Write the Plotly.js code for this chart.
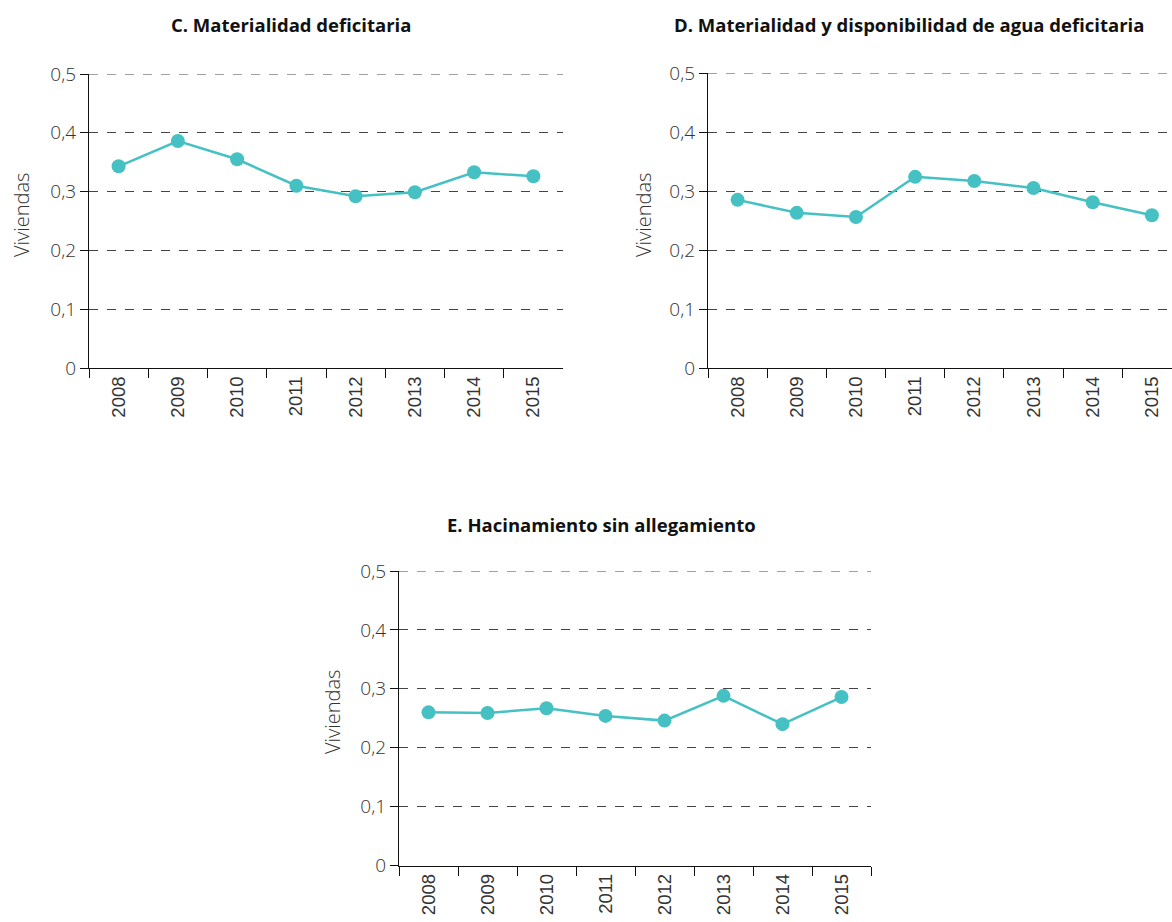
<!DOCTYPE html>
<html>
<head>
<meta charset="utf-8">
<script src="https://cdn.plot.ly/plotly-3.0.1.min.js"></script>
<style>html,body{margin:0;padding:0;background:#fff;}#chart{width:1172px;height:922px;}</style>
</head>
<body>
<div id="chart"></div>
<script>
const years = ["2008","2009","2010","2011","2012","2013","2014","2015"];
const valuesC = [0.343, 0.386, 0.355, 0.310, 0.292, 0.299, 0.333, 0.326];
const valuesD = [0.285, 0.263, 0.256, 0.324, 0.317, 0.305, 0.281, 0.259];
const valuesE = [0.260, 0.259, 0.267, 0.254, 0.246, 0.288, 0.240, 0.286];
const titles = ["C. Materialidad deficitaria", "D. Materialidad y disponibilidad de agua deficitaria", "E. Hacinamiento sin allegamiento"];
const yTickVals = [0, 0.1, 0.2, 0.3, 0.4, 0.5];
const yTickText = ["0", "0,1", "0,2", "0,3", "0,4", "0,5"];
const yLabel = "Viviendas";

const W = 1172, H = 922;
const teal = "#45c1c3";
const font = "'Open Sans', 'Noto Sans', sans-serif";
const xfont = "'Liberation Sans', Arial, sans-serif";

function px(x){ return x / W; }
function py(y){ return 1 - y / H; }

function trace(vals, xa, ya){
  return {
    type: "scatter", mode: "lines+markers",
    x: years, y: vals, xaxis: xa, yaxis: ya,
    line: {color: teal, width: 2.5},
    marker: {color: teal, size: 14},
    hoverinfo: "x+y", showlegend: false
  };
}

function xax(d0, d1, anchor, rng){
  return {
    type: "category", domain: [d0, d1], anchor: anchor,
    range: rng, showgrid: false, zeroline: false,
    showline: true, linecolor: "#111", linewidth: 1.2,
    ticks: "outside", tickson: "boundaries", ticklen: 9, tickcolor: "#111", tickwidth: 1.2,
    tickangle: -90, fixedrange: true,
    tickfont: {family: xfont, size: 18.5, color: "#333"}
  };
}
function yax(d0, d1, anchor){
  return {
    domain: [d0, d1], anchor: anchor, range: [0, 0.5],
    tickvals: yTickVals, ticktext: yTickText,
    showgrid: true, gridcolor: "#444", griddash: "dash", gridwidth: 1,
    zeroline: false, showline: true, linecolor: "#111", linewidth: 1.2,
    ticks: "outside", ticklen: 8, tickcolor: "#111", tickwidth: 1.2,
    fixedrange: true,
    tickfont: {family: font, size: 19, color: "#333", weight: 300}
  };
}
function topGrid(xa, ya){
  return {type: "line", xref: xa + " domain", yref: ya, x0: 0, x1: 1, y0: 0.5, y1: 0.5,
          line: {color: "#444", width: 1, dash: "dash"}, layer: "below"};
}

const data = [
  trace(valuesC, "x", "y"),
  trace(valuesD, "x2", "y2"),
  trace(valuesE, "x3", "y3")
];

const tfont = {family: font, size: 18.5, color: "#111"};
const lfont = {family: font, size: 20, color: "#333", weight: 300};

const layout = {
  width: W, height: H,
  margin: {l: 0, r: 0, t: 0, b: 0},
  paper_bgcolor: "#fff", plot_bgcolor: "#fff",
  xaxis: xax(px(89), px(563), "y", [-0.5, 7.5]),
  yaxis: yax(py(368), py(74), "x"),
  xaxis2: xax(px(708), 1, "y2", [-0.5, 7.34]),
  yaxis2: yax(py(368), py(73), "x2"),
  xaxis3: xax(px(399), px(871), "y3", [-0.5, 7.5]),
  yaxis3: yax(py(865.5), py(571), "x3"),
  shapes: [topGrid("x", "y"), topGrid("x2", "y2"), topGrid("x3", "y3")],
  annotations: [
    {text: "<b>" + titles[0] + "</b>", x: px(291), y: py(25), xref: "paper", yref: "paper", showarrow: false, xanchor: "center", yanchor: "middle", font: tfont},
    {text: "<b>" + titles[1] + "</b>", x: px(909), y: py(25), xref: "paper", yref: "paper", showarrow: false, xanchor: "center", yanchor: "middle", font: tfont},
    {text: "<b>" + titles[2] + "</b>", x: px(601), y: py(524), xref: "paper", yref: "paper", showarrow: false, xanchor: "center", yanchor: "middle", font: tfont},
    {text: yLabel, x: px(22), y: py(215), xref: "paper", yref: "paper", showarrow: false, textangle: -90, xanchor: "center", yanchor: "middle", font: lfont},
    {text: yLabel, x: px(644), y: py(215), xref: "paper", yref: "paper", showarrow: false, textangle: -90, xanchor: "center", yanchor: "middle", font: lfont},
    {text: yLabel, x: px(332), y: py(712), xref: "paper", yref: "paper", showarrow: false, textangle: -90, xanchor: "center", yanchor: "middle", font: lfont}
  ]
};

Plotly.newPlot("chart", data, layout, {displayModeBar: false, staticPlot: false, responsive: false});
</script>
</body>
</html>
